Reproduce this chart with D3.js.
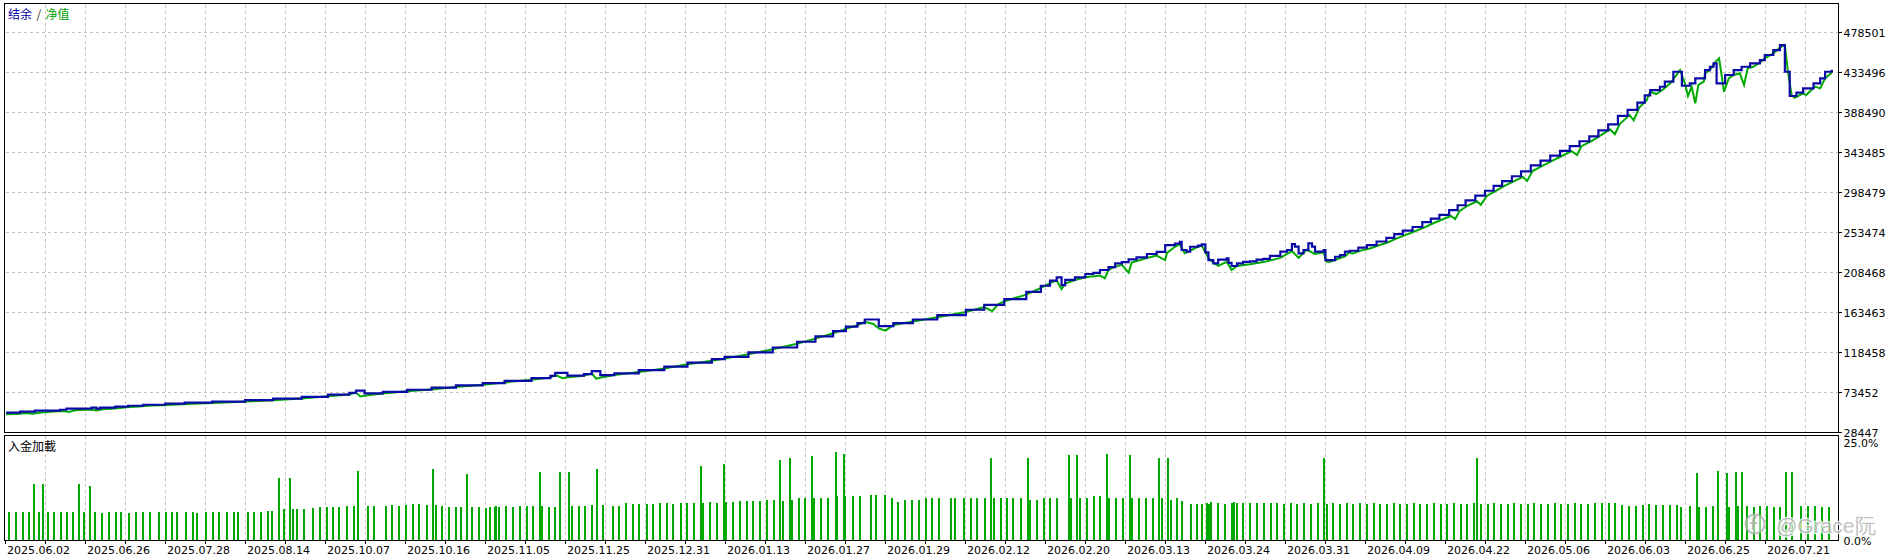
<!DOCTYPE html>
<html><head><meta charset="utf-8">
<script src="https://cdn.jsdelivr.net/npm/d3@7"></script>
<style>html,body{margin:0;padding:0;background:#fff;overflow:hidden;}svg{display:block;}</style>
</head><body>
<svg id="c" width="1893" height="560"></svg>
<script>
// ---------------- DATA ----------------
const dateLabels = ["2025.06.02","2025.06.26","2025.07.28","2025.08.14","2025.10.07","2025.10.16","2025.11.05","2025.11.25","2025.12.31","2026.01.13","2026.01.27","2026.01.29","2026.02.12","2026.02.20","2026.03.13","2026.03.24","2026.03.31","2026.04.09","2026.04.22","2026.05.06","2026.06.03","2026.06.25","2026.07.21"];
const yTicks = [28447, 73452, 118458, 163463, 208468, 253474, 298479, 343485, 388490, 433496, 478501];
const loadTicks = [0, 25];
const dealCount = 300;

// balance: [deal number, balance]
const balance = [[0,50200],[2.5,51300],[4.9,52400],[9.0,53500],[10.1,54700],[14.2,55800],[15.0,54700],[15.6,55800],[18.1,56900],[20.2,58000],[22.7,59100],[26.3,60300],[29.5,61400],[34,62700],[39.4,64400],[44,66000],[48.7,68000],[53,70500],[56.5,72500],[57.6,75000],[59,71800],[62,73500],[66,76000],[70,78300],[74,80800],[78.4,83500],[82,86000],[86.4,89000],[89.5,91500],[90.3,95000],[92.3,91800],[95,93500],[96.3,97000],[97.7,92500],[100,94500],[104,98000],[108.2,102000],[112,106500],[116,110500],[118.1,113000],[122,118000],[126,123500],[130,130000],[133,136000],[135.9,142000],[138,147000],[139.9,151000],[141.1,155000],[143.4,147500],[145.8,151000],[149,155000],[153,160000],[157.7,166000],[160.7,171500],[164,178000],[167.6,186000],[170,193000],[171.5,198700],[172.6,202500],[173.4,193800],[174.0,199500],[175.6,202500],[177.3,206200],[178.6,207500],[179.7,210700],[181.1,214000],[182.2,218200],[183.3,219500],[184.4,222700],[185.7,225000],[187.4,228700],[189.0,231000],[190.4,238800],[192.0,240400],[192.8,242500],[193.1,233200],[193.9,231500],[194.5,236900],[195.8,238200],[196.4,239600],[197.0,230500],[197.5,221900],[198.3,218200],[199.1,222300],[200.5,223800],[200.8,218800],[201.3,215200],[202.2,218200],[203.2,219800],[204.3,220500],[205.4,222300],[206.5,223200],[207.6,226500],[209.3,231300],[210.4,233200],[211.2,239900],[211.7,237000],[212.3,229500],[213.1,233200],[213.9,240700],[214.5,237000],[215.0,231300],[216.4,233200],[216.7,221900],[217.5,221900],[218.3,225600],[219.1,227500],[219.9,231300],[220.7,232400],[222.1,236000],[223.5,238800],[225.1,242800],[226.7,246900],[228.0,251000],[229.4,255100],[231.0,259100],[232.6,264600],[234.0,268600],[235.4,272700],[237.0,278100],[238.4,283600],[239.7,289000],[241.3,294500],[242.9,299900],[244.3,305300],[245.7,310800],[247.3,316200],[248.8,321600],[250.4,328400],[252.0,333800],[253.6,339300],[255.2,344700],[256.8,350100],[258.4,355600],[260.0,361000],[261.5,367800],[263.1,374600],[264.7,384100],[266.3,390900],[267.9,399000],[269.1,407200],[270.0,413200],[271.6,416900],[272.4,422600],[273.8,433800],[275.2,418000],[276.5,420700],[277.4,426400],[279.0,435700],[279.8,439400],[280.4,443200],[280.9,420700],[282.3,430100],[283.7,435700],[285.0,439400],[286.4,443200],[288.0,446900],[288.8,452600],[290.2,458200],[291.3,463800],[292.1,433800],[292.9,406500],[294.0,410200],[295.1,415100],[296.8,420700],[297.9,426400],[298.7,433800],[299.8,434900],[300,434900]];

// equity: [deal number, equity]
const equity = [[0,48300],[2,48600],[3.5,49700],[4.5,49000],[6,50500],[8,51400],[9.5,52000],[10.5,51000],[11.5,52800],[14,53800],[15,52600],[16,54000],[18,55000],[20,56300],[22,57200],[24,58200],[26,58500],[29,59800],[34,61000],[39,62500],[44,64200],[48.7,66200],[53,68600],[56.5,70600],[57.6,72800],[58.3,68500],[59.5,69800],[62,71800],[66,74200],[70,76400],[74,79000],[78.4,81600],[82,84200],[86.4,87200],[89.5,89600],[90.3,92800],[91.5,89000],[92.3,90000],[95,91600],[96.3,94500],[97,88500],[98,90000],[100,92500],[104,96000],[108.2,100000],[112,104600],[116,108500],[118.1,111000],[122,116000],[126,121500],[130,127800],[133,133500],[135.9,139500],[138,144500],[139.9,148500],[141.1,152500],[142.5,150000],[143.4,145000],[144.5,142500],[145.8,148800],[149,152800],[153,157500],[157.7,163500],[160.7,169000],[162,164500],[163,172000],[164,175500],[167.6,183000],[170,190500],[171.5,196000],[172.6,199000],[173.4,189200],[174.0,195500],[175.6,199500],[177.3,202500],[179.7,204500],[180.5,201400],[181.1,211000],[182.2,214500],[183.3,216500],[184.4,207700],[184.9,219000],[187.4,224300],[189.0,227000],[190.4,221900],[190.7,230000],[192.0,236900],[192.8,239600],[193.6,229500],[194.5,232400],[195.8,236900],[196.4,238300],[197.5,224300],[198.3,219000],[199.1,215300],[200.5,220000],[201.3,210700],[202.2,215300],[204.3,217200],[206.5,219600],[209.3,224300],[211.2,232000],[212.3,224300],[213.6,233500],[215.0,228700],[216.4,230600],[216.9,220000],[217.5,220000],[218.3,222300],[219.9,226000],[220.7,231000],[221.1,229000],[222.5,232500],[224.0,235000],[225.5,238500],[227.0,242000],[228.3,246000],[229.8,250000],[231.3,254000],[232.9,258500],[234.3,263000],[235.7,267000],[237.3,271500],[238.0,268000],[238.7,277000],[240.0,283000],[241.6,288000],[242.2,284000],[243.2,294000],[244.6,299500],[246.0,305000],[247.6,310500],[249.1,315500],[249.8,311000],[250.7,322000],[252.3,328000],[253.9,333500],[255.5,339000],[257.1,344500],[258.0,340000],[258.7,350000],[260.3,355500],[261.8,362000],[263.4,369000],[264.2,363500],[265.0,375000],[266.6,385000],[267.3,379000],[268.2,393500],[269.4,401500],[270.0,411300],[271.0,408700],[272.0,413200],[273.3,420700],[274.9,435700],[275.7,420700],[276.2,406500],[276.8,417000],[277.4,398300],[277.9,418900],[278.8,422600],[279.0,431900],[279.8,435700],[280.7,445000],[281.3,448900],[281.8,426400],[282.1,411300],[282.9,426400],[283.7,430100],[284.7,432000],[285.4,418900],[286.0,437600],[286.9,439400],[288.0,443900],[288.8,448900],[290.2,454500],[291.5,462000],[292.1,463800],[292.6,433800],[293.2,407600],[293.7,404600],[295.1,409500],[295.6,407600],[297.0,417000],[297.9,415100],[298.7,426400],[299.8,432800]];

// deposit load: [deal number, percent]
const loads = [[0.65,7.2],[1.8,7.2],[2.9,7.2],[3.9,7.2],[4.7,14.2],[5.5,7.2],[6.2,14.2],[7.1,7.2],[8.1,7.2],[9.2,7.2],[10.2,7.2],[11.2,7.2],[12.1,14.2],[12.9,7.2],[14.0,13.9],[14.7,7.2],[15.9,7.0],[17.1,7.2],[18.2,7.2],[19.1,7.2],[20.4,7.0],[21.5,7.2],[22.6,7.2],[23.8,7.2],[25.2,7.2],[26.4,7.2],[27.4,7.2],[28.3,7.2],[29.7,7.2],[30.8,7.2],[31.5,7.0],[33.0,7.2],[34.1,7.2],[35.2,7.2],[36.4,7.2],[37.6,7.2],[38.3,7.2],[39.8,7.2],[40.8,7.2],[42.0,7.2],[43.2,7.5],[43.8,7.5],[45.0,15.7],[45.8,8.0],[46.7,15.7],[47.2,8.0],[48.0,8.0],[49.1,8.0],[50.5,8.2],[51.7,8.5],[52.9,8.5],[53.8,8.5],[54.8,8.5],[56.2,8.8],[57.3,8.8],[58.0,17.5],[59.5,8.8],[60.6,8.8],[62.5,8.8],[63.5,9.0],[64.7,8.8],[65.8,9.0],[67.0,9.3],[68.0,9.3],[69.2,9.0],[70.2,18.0],[70.7,9.0],[71.7,8.8],[72.9,8.5],[74.0,8.5],[74.9,8.5],[75.8,16.8],[76.7,8.5],[77.8,8.5],[78.9,8.2],[79.6,8.5],[80.4,8.5],[80.6,8.8],[81.0,8.5],[82.2,8.8],[83.3,8.5],[84.5,8.8],[85.6,8.8],[86.6,8.8],[87.8,17.3],[88.1,8.8],[89.3,8.5],[90.3,8.5],[91.1,17.3],[92.6,17.3],[93.0,8.8],[94.2,8.8],[95.2,8.8],[96.3,9.0],[97.1,18.0],[98.1,9.0],[99.7,8.8],[100.8,8.8],[101.9,9.5],[103.0,9.3],[104.1,9.3],[105.3,9.3],[106.3,9.3],[107.5,9.5],[108.6,9.5],[109.7,9.3],[110.9,9.5],[111.9,9.5],[113.1,9.5],[114.2,18.8],[114.5,9.5],[115.7,9.8],[116.8,9.5],[118.0,19.3],[118.3,9.8],[119.5,9.8],[120.6,10.0],[121.7,10.0],[122.8,10.0],[123.9,10.0],[125.1,10.3],[126.2,10.3],[127.2,20.4],[127.7,10.0],[128.8,20.9],[129.2,10.3],[130.3,10.8],[131.3,10.8],[132.4,21.4],[132.7,10.8],[133.9,10.6],[135.1,10.6],[136.3,22.4],[136.5,11.1],[137.7,21.9],[137.9,11.1],[139.2,11.1],[140.3,11.1],[142.1,11.6],[143.0,11.6],[144.4,11.6],[145.5,10.8],[146.5,9.8],[147.7,10.3],[148.8,10.3],[150.0,10.3],[151.2,10.6],[152.1,10.8],[153.3,10.6],[155.2,10.6],[155.9,10.8],[157.4,10.8],[158.5,10.8],[159.6,10.8],[160.8,10.8],[161.8,20.9],[162.3,10.6],[163.4,10.6],[164.4,10.6],[165.5,10.8],[166.7,10.6],[167.9,20.9],[168.2,10.3],[169.4,10.3],[170.5,10.6],[171.5,10.8],[172.6,10.8],[174.6,21.6],[174.9,10.8],[176.0,21.6],[176.4,10.8],[177.5,10.8],[178.7,11.1],[179.7,11.1],[180.8,21.9],[181.2,10.8],[182.3,10.8],[183.4,10.8],[184.6,21.6],[184.9,10.8],[186.1,10.6],[187.2,10.6],[188.4,10.8],[189.4,20.9],[189.8,10.6],[190.8,20.9],[191.3,10.3],[192.4,10.6],[193.1,10.0],[194.6,9.3],[195.7,9.3],[196.4,9.3],[197.2,9.5],[197.6,9.3],[198.0,9.8],[199.1,9.5],[200.3,9.3],[201.3,9.5],[201.7,9.8],[202.2,9.5],[203.2,9.5],[204.3,9.5],[205.5,9.5],[206.6,9.5],[207.7,9.5],[208.8,9.5],[209.9,9.3],[211.0,9.5],[212.1,9.3],[213.2,9.5],[214.3,9.3],[215.4,9.5],[216.5,20.9],[216.9,9.3],[218.0,9.5],[219.1,9.3],[220.2,9.5],[221.3,9.3],[222.4,9.5],[223.5,9.3],[224.6,9.5],[225.7,9.3],[226.8,9.3],[227.9,9.5],[229.0,9.3],[230.1,9.3],[231.2,9.5],[232.3,9.3],[233.4,9.3],[234.5,9.5],[235.6,9.3],[236.7,9.3],[237.8,9.5],[238.9,9.3],[240.0,9.3],[241.1,9.5],[241.5,20.9],[242.2,9.3],[243.3,9.3],[244.4,9.5],[245.5,9.3],[246.6,9.3],[247.7,9.5],[248.8,9.3],[249.9,9.3],[251.0,9.5],[252.1,9.3],[253.2,9.3],[254.3,9.5],[255.4,9.3],[256.5,9.3],[257.6,9.5],[258.7,9.3],[259.8,9.3],[260.9,9.5],[262.1,9.5],[263.3,9.5],[264.2,9.5],[265.4,9.0],[266.6,8.8],[267.7,8.8],[268.8,9.0],[269.8,9.3],[271.0,9.0],[272.1,9.0],[273.2,9.0],[274.4,9.0],[275.1,8.5],[276.5,8.8],[277.7,17.0],[278.0,8.5],[279.2,8.5],[280.3,8.8],[281.1,17.5],[282.6,17.0],[282.9,8.5],[284.1,17.3],[284.4,8.8],[285.1,17.3],[285.9,8.8],[287.0,8.5],[288.1,8.8],[289.1,8.8],[290.3,8.5],[291.3,8.5],[292.3,17.3],[293.3,17.3],[294.8,8.8],[295.9,8.8],[297.1,8.8],[298.2,8.5],[299.3,8.5]];

// ---------------- DRAW ----------------
const svg = d3.select("#c");
const P = {left: 5, right: 1838, top: 4, bottom: 432, subTop: 435, subBottom: 540};
const x = d3.scaleLinear().domain([0, dealCount]).range([5, 1833]);
const xl = d3.scaleLinear().domain([0, dateLabels.length - 1]).range([5, 1765]);
const y = d3.scaleLinear().domain([yTicks[0], yTicks[yTicks.length - 1]]).range([432, 32]);
const yl = d3.scaleLinear().domain(loadTicks).range([540, 442]);
const gridColor = "#c4c4c4";
const axisFont = "'DejaVu Sans', Verdana, sans-serif";
const cjkFont = "'Noto Sans CJK SC', 'Noto Sans CJK TC', sans-serif";

svg.append("rect").attr("width", 1893).attr("height", 560).attr("fill", "#fff");

const defs = svg.append("defs");
defs.append("clipPath").attr("id", "mainClip").append("rect")
  .attr("x", P.left + 1).attr("y", P.top + 1).attr("width", P.right - P.left - 1).attr("height", P.bottom - P.top - 1);
defs.append("clipPath").attr("id", "subClip").append("rect")
  .attr("x", P.left + 1).attr("y", P.subTop + 1).attr("width", P.right - P.left - 1).attr("height", P.subBottom - P.subTop);

// vertical grid positions (half label steps)
const vGrid = d3.range(0.5, dateLabels.length, 0.5).map(v => Math.round(xl(v))).filter(px => px < P.right);

const grid = svg.append("g").attr("stroke", gridColor).attr("stroke-dasharray", "3,3").attr("shape-rendering", "crispEdges");
vGrid.forEach(px => {
  grid.append("line").attr("x1", px + 0.5).attr("x2", px + 0.5).attr("y1", P.top + 1).attr("y2", P.bottom);
  grid.append("line").attr("x1", px + 0.5).attr("x2", px + 0.5).attr("y1", P.subTop + 1).attr("y2", P.subBottom);
});
yTicks.slice(1).forEach(t => {
  const py = Math.round(y(t)) + 0.5;
  grid.append("line").attr("x1", P.left + 1).attr("x2", P.right).attr("y1", py).attr("y2", py);
});

// equity + balance
const gMain = svg.append("g").attr("clip-path", "url(#mainClip)");
gMain.append("path").datum(equity)
  .attr("fill", "none").attr("stroke", "#00aa00").attr("stroke-width", 2).attr("stroke-linejoin", "miter")
  .attr("d", d3.line().x(d => x(d[0])).y(d => y(d[1])));
gMain.append("path").datum(balance)
  .attr("fill", "none").attr("stroke", "#0a0aa6").attr("stroke-width", 2.2).attr("stroke-linejoin", "miter")
  .attr("d", d3.line().curve(d3.curveStepAfter).x(d => x(d[0])).y(d => y(d[1])));

// load bars
const gSub = svg.append("g").attr("clip-path", "url(#subClip)").attr("shape-rendering", "crispEdges");
gSub.selectAll("rect").data(loads).join("rect")
  .attr("x", d => Math.round(x(d[0])) - 1)
  .attr("width", 2)
  .attr("y", d => Math.round(yl(d[1])))
  .attr("height", d => yl(0) - Math.round(yl(d[1])))
  .attr("fill", "#00a800");

// frames
const fr = svg.append("g").attr("fill", "none").attr("stroke", "#000").attr("stroke-width", 1).attr("shape-rendering", "crispEdges");
fr.append("rect").attr("x", P.left - 0.5).attr("y", P.top - 0.5).attr("width", P.right - P.left + 1).attr("height", P.bottom - P.top + 1);
fr.append("path").attr("d", `M${P.left - 0.5},${P.subBottom + 0.5}V${P.subTop + 0.5}H${P.right + 0.5}V${P.subBottom + 0.5}`);
fr.append("line").attr("x1", P.left - 1).attr("x2", P.right + 1).attr("y1", P.subBottom + 0.5).attr("y2", P.subBottom + 0.5);

// x ticks
const xt = svg.append("g").attr("stroke", "#000").attr("shape-rendering", "crispEdges");
[Math.round(xl(0))].concat(vGrid).forEach(px => {
  xt.append("line").attr("x1", px + 0.5).attr("x2", px + 0.5).attr("y1", P.subBottom + 1).attr("y2", P.subBottom + 4);
});
svg.append("g").selectAll("text").data(dateLabels).join("text")
  .attr("x", (d, i) => xl(i) + 2).attr("y", 554)
  .attr("font-family", axisFont).attr("font-size", 11).attr("fill", "#000")
  .text(d => d);

// y ticks & labels (main)
const yt = svg.append("g");
yTicks.forEach(t => {
  const py = Math.round(y(t));
  yt.append("line").attr("x1", P.right + 1).attr("x2", P.right + 4).attr("y1", py + 0.5).attr("y2", py + 0.5)
    .attr("stroke", "#000").attr("shape-rendering", "crispEdges");
  yt.append("text").attr("x", P.right + 5.5).attr("y", py + 5.3)
    .attr("font-family", axisFont).attr("font-size", 11).attr("fill", "#000").text(t);
});
// load axis labels
loadTicks.forEach(t => {
  svg.append("text").attr("x", P.right + 5.5).attr("y", Math.round(yl(t)) + 5)
    .attr("font-family", axisFont).attr("font-size", 11).attr("fill", "#000").text(t.toFixed(1) + "%");
});

// titles
const title = svg.append("text").attr("y", 19).attr("font-family", cjkFont).attr("font-size", 12);
title.append("tspan").attr("x", 8).attr("fill", "#0000a0").text("结余");
title.append("tspan").attr("x", 36.5).attr("fill", "#333").text("/");
title.append("tspan").attr("x", 45.5).attr("fill", "#00a000").text("净值");
svg.append("text").attr("x", 8).attr("y", 450.5).attr("font-family", cjkFont).attr("font-size", 12)
  .attr("fill", "#000").text("入金加載");

// watermark
const wm = svg.append("g").attr("opacity", 0.85);
wm.append("circle").attr("cx", 1755).attr("cy", 524).attr("r", 9.5).attr("fill", "#fff").attr("fill-opacity", 0.6)
  .attr("stroke", "#b5b5b5").attr("stroke-width", 2);
wm.append("path").attr("d", "M1757,517 q-4,0 -4,4 v9 M1750,523 h7").attr("fill", "none").attr("stroke", "#b5b5b5").attr("stroke-width", 2);
wm.append("text").attr("x", 1776).attr("y", 533).attr("font-family", "'Liberation Sans', Arial, sans-serif")
  .attr("font-size", 21).attr("fill", "#b8b8b8").attr("stroke", "#fff").attr("stroke-width", 2.5)
  .attr("paint-order", "stroke").text("@Grace阮");
</script>
</body></html>
